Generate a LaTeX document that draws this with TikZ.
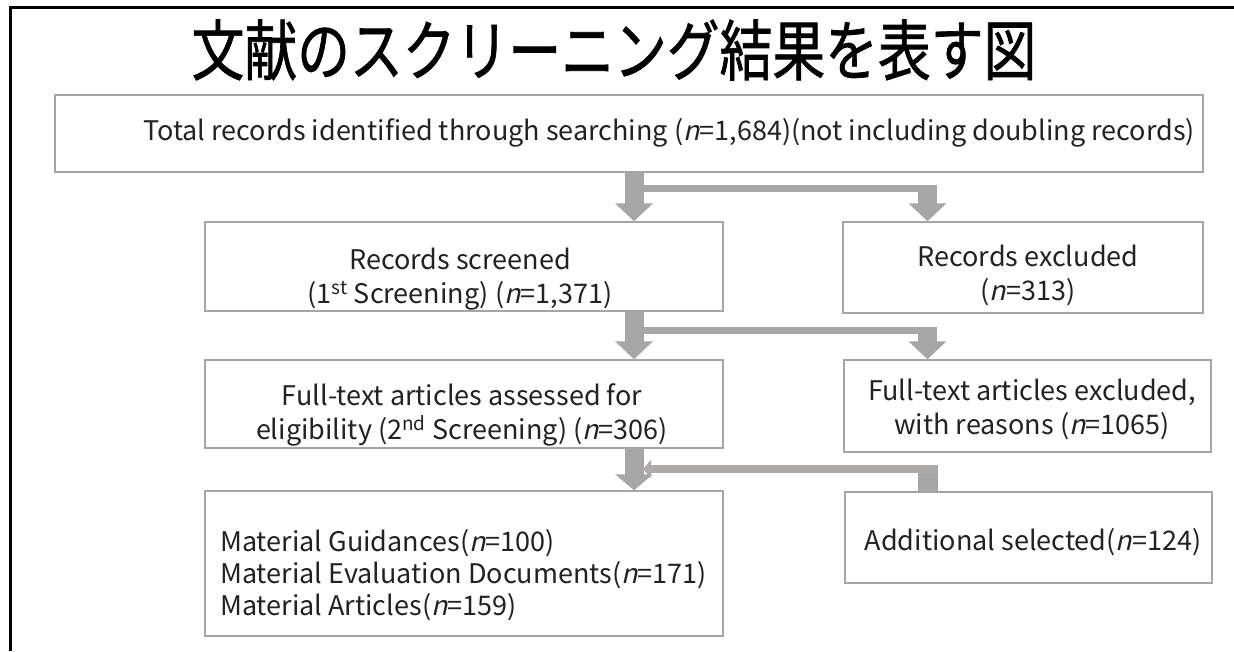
\documentclass[tikz,border=0pt]{standalone}
\usepackage{fontspec}
\setmainfont{Noto Sans CJK JP}[ItalicFont={Noto Sans CJK JP},ItalicFeatures={FakeSlant=0.22}]
\newfontfamily\titlefont{Noto Sans CJK JP}[FakeStretch=0.8,FakeBold=1]
\usetikzlibrary{arrows.meta,calc}
\definecolor{boxgray}{HTML}{A5A5A5}
\definecolor{arrgray}{HTML}{A6A6A6}
\definecolor{retgray}{HTML}{AEAAAA}
\definecolor{txtc}{HTML}{222222}
\newcommand{\nn}{\textit{n}}
\begin{document}
\begin{tikzpicture}[x=1pt,y=-1pt,
  box/.style={draw=boxgray,line width=1.5pt,fill=white,inner sep=0pt},
  lbl/.style={font=\fontsize{27}{34}\selectfont,text=txtc,align=center,inner sep=0pt},
  shaft/.style={draw=arrgray,line width=19pt},
  bar/.style={draw=arrgray,line width=7pt},
  bigtip/.style={-{Triangle[width=37pt,length=18pt]}},
]
\useasboundingbox (0,0) rectangle (1234,651);
\draw[line width=3pt] (10.5,651) -- (10.5,7) -- (1234,7);

\node[font=\titlefont\fontsize{66}{66}\selectfont,text=black,inner sep=0pt] (title) at (614,50) {文献のスクリーニング結果を表す図};

% boxes
\node[box,minimum width=1148pt,minimum height=77pt] (b1) at (629,133.5) {};
\node[box,minimum width=518pt,minimum height=89pt] (b2) at (464,266.5) {};
\node[box,minimum width=360pt,minimum height=91pt] (b3) at (1023,267.5) {};
\node[box,minimum width=518pt,minimum height=88pt] (b4) at (464,404) {};
\node[box,minimum width=367pt,minimum height=92pt] (b5) at (1027.5,406) {};
\node[box,minimum width=518pt,minimum height=145pt] (b6) at (464,563.5) {};
\node[box,minimum width=367pt,minimum height=91pt] (b7) at (1028.5,537.5) {};

% texts
\node[lbl,anchor=east] (t1) at (1195,133) {Total records identified through searching (\nn=1,684)(not including doubling records)};
\node[lbl] (t2) at (460,279) {Records screened\\(1\textsuperscript{st} Screening) (\nn=1,371)};
\node[lbl] (t3) at (1028,275) {Records excluded\\(\nn=313)};
\node[lbl] (t4) at (462,415) {Full-text articles assessed for\\eligibility (2\textsuperscript{nd} Screening) (\nn=306)};
\node[lbl] (t5) at (1032,409) {Full-text articles excluded,\\with reasons (\nn=1065)};
\node[lbl,align=left,anchor=west,font=\fontsize{27}{32}\selectfont] (t6) at (220,575) {Material Guidances(\nn=100)\\Material Evaluation Documents(\nn=171)\\Material Articles(\nn=159)};
\node[lbl] (t7) at (1033,542) {Additional selected(\nn=124)};

% coordinates
\coordinate (mx) at (634,0);
\coordinate (rx) at (927.5,0);
\coordinate (j1) at (634,188.5);
\coordinate (e1) at (937,188.5);
\coordinate (v1) at (927.5,185);
\coordinate (j2) at (634,330);
\coordinate (e2) at (937,330);
\coordinate (v2) at (927.5,327);
\coordinate (r1) at (927.5,465);
\coordinate (r2) at (937,469);
\coordinate (r3) at (643,469);

% arrow 1
\draw[shaft,bigtip] (b1.south -| mx) -- (b2.north -| mx);
\draw[bar] (j1) -- (e1);
\draw[shaft,bigtip] (v1) -- (b3.north -| rx);
% arrow 2
\draw[shaft,bigtip] (b2.south -| mx) -- (b4.north -| mx);
\draw[bar] (j2) -- (e2);
\draw[shaft,bigtip] (v2) -- (b5.north -| rx);
% arrow 3
\draw[shaft,-{Triangle[width=37pt,length=16pt]}] (b4.south -| mx) -- (b6.north -| mx);
% return arrow
\draw[draw=arrgray,line width=20pt] (b7.north -| rx) -- (r1);
\draw[draw=retgray,line width=8pt,-{Triangle[width=18pt,length=8pt]}] (r2) -- (r3);
\end{tikzpicture}
\end{document}
